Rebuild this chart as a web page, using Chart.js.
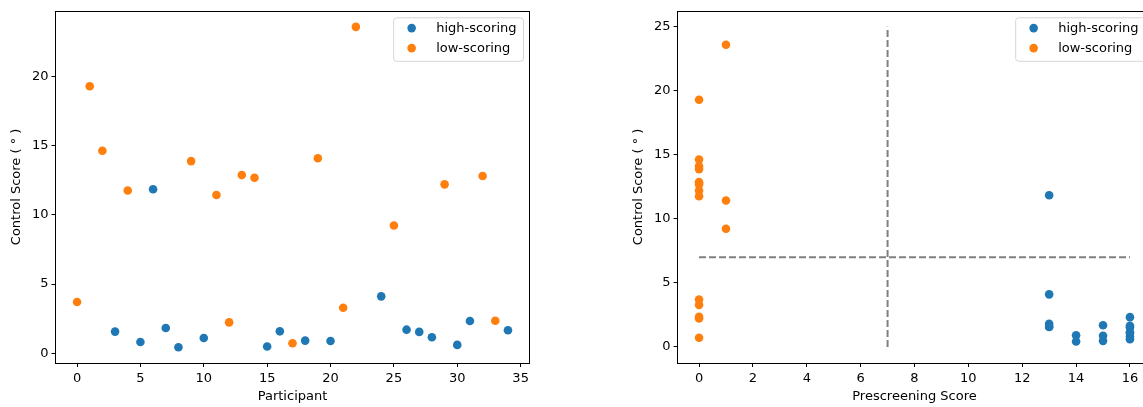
<!DOCTYPE html>
<html>
<head>
<meta charset="utf-8">
<script src="https://cdn.jsdelivr.net/npm/chart.js@4.4.1/dist/chart.umd.min.js"></script>
<style>
    html, body { margin: 0; padding: 0; background: #fff; overflow: hidden; width: 1143px; height: 407px; }
    canvas { position: absolute; top: 0; }
    #chartLeft { left: 0; }
    #chartRight { left: 622px; }
</style>
</head>
<body>
<canvas id="chartLeft" width="540" height="407"></canvas>
<canvas id="chartRight" width="540" height="407"></canvas>
<script>
// dados
const seriesNames = ['high-scoring', 'low-scoring'];

const highParticipants = [3, 5, 6, 7, 8, 10, 15, 16, 18, 20, 24, 26, 27, 28, 30, 31, 34];
const highScores = [1.56, 0.81, 11.85, 1.82, 0.43, 1.10, 0.48, 1.58, 0.91, 0.88, 4.11, 1.70, 1.54, 1.15, 0.60, 2.33, 1.66];
const highPrescreen = [13, 16, 13, 13, 14, 16, 15, 13, 14, 15, 13, 15, 16, 16, 16, 16, 16];

const lowParticipants = [0, 1, 2, 4, 9, 11, 12, 13, 14, 17, 19, 21, 22, 25, 29, 32, 33];
const lowScores = [3.70, 19.30, 14.64, 11.77, 13.89, 11.44, 2.23, 12.88, 12.69, 0.72, 14.10, 3.29, 23.60, 9.23, 12.21, 12.81, 2.35];
const lowPrescreen = [0, 0, 0, 0, 0, 1, 0, 0, 0, 0, 0, 0, 1, 1, 0, 0, 0];

const thresholdPrescreen = 7;
const thresholdControl = 7;
const thresholdControlMax = 25;
const thresholdPrescreenMax = 16;

const leftXTicks = [0, 5, 10, 15, 20, 25, 30, 35];
const leftYTicks = [0, 5, 10, 15, 20];
const rightXTicks = [0, 2, 4, 6, 8, 10, 12, 14, 16];
const rightYTicks = [0, 5, 10, 15, 20, 25];

const blue = '#1f77b4';
const orange = '#ff7f0e';
const fontFamily = "'DejaVu Sans', sans-serif";

function pontos(xs, ys) {
    return xs.map((x, i) => ({x: x, y: ys[i]}));
}

// moldura completa (quatro lados), como no matplotlib
const molduraPlugin = {
    id: 'moldura',
    afterDatasetsDraw(chart) {
        const a = chart.chartArea;
        const ctx = chart.ctx;
        ctx.save();
        ctx.strokeStyle = '#000';
        ctx.lineWidth = 1;
        ctx.strokeRect(Math.round(a.left) - 0.5, Math.round(a.top) + 0.5,
            Math.round(a.right - a.left), Math.round(a.bottom - a.top));
        ctx.restore();
    }
};

// legenda dentro do grafico, canto superior direito
const legendaPlugin = {
    id: 'legendaInterna',
    afterDraw(chart) {
        const a = chart.chartArea;
        const ctx = chart.ctx;
        ctx.save();
        ctx.font = '13px ' + fontFamily;
        let maxW = 0;
        seriesNames.forEach(n => { maxW = Math.max(maxW, ctx.measureText(n).width); });
        const w = 43 + maxW + 6.5;
        const h = 43.5;
        const right = a.right - 6.5;
        const top = a.top + 6.5;
        const left = right - w;
        ctx.beginPath();
        ctx.roundRect(left + 0.5, top + 0.5, w, h, 3);
        ctx.fillStyle = 'rgba(255,255,255,0.8)';
        ctx.fill();
        ctx.strokeStyle = 'rgba(204,204,204,0.8)';
        ctx.lineWidth = 1;
        ctx.stroke();
        const cores = [blue, orange];
        seriesNames.forEach((n, i) => {
            const cy = top + 10.8 + i * 20;
            ctx.beginPath();
            ctx.arc(left + 18.5, cy, 4.3, 0, Math.PI * 2);
            ctx.fillStyle = cores[i];
            ctx.fill();
            ctx.fillStyle = '#000';
            ctx.textBaseline = 'middle';
            ctx.textAlign = 'left';
            ctx.fillText(n, left + 43, cy + 0.5);
        });
        ctx.restore();
    }
};

function eixo(titulo, min, max, tickValues, horizontal) {
    return {
        type: 'linear',
        min: min,
        max: max,
        afterBuildTicks: function (axis) {
            axis.ticks = tickValues.map(v => ({value: v}));
        },
        afterFit: function (axis) {
            if (horizontal) {
                axis.height = 44;
            } else {
                axis.width = 55.5;
            }
        },
        grid: {
            drawOnChartArea: false,
            drawTicks: true,
            tickLength: 4,
            tickWidth: 1,
            tickColor: '#000'
        },
        border: {display: false},
        ticks: {
            color: '#000',
            padding: horizontal ? 4 : 3,
            maxRotation: 0,
            autoSkip: false,
            font: {family: fontFamily, size: 13}
        },
        title: {
            display: true,
            text: titulo,
            color: '#000',
            font: {family: fontFamily, size: 13},
            padding: horizontal ? {top: 4, bottom: 3} : {top: 9, bottom: 4}
        }
    };
}

function opcoes(xScale, yScale) {
    return {
        responsive: false,
        animation: false,
        layout: {padding: {left: 0, right: 10.5, top: 10, bottom: 0}},
        plugins: {
            legend: {display: false},
            tooltip: {enabled: false}
        },
        scales: {x: xScale, y: yScale}
    };
}

const estiloPonto = {pointRadius: 4.3, pointHoverRadius: 4.3, pointBorderWidth: 0};

new Chart(document.getElementById('chartLeft').getContext('2d'), {
    type: 'scatter',
    data: {
        datasets: [{
            label: seriesNames[0],
            data: pontos(highParticipants, highScores),
            backgroundColor: blue,
            borderColor: blue,
            ...estiloPonto
        }, {
            label: seriesNames[1],
            data: pontos(lowParticipants, lowScores),
            backgroundColor: orange,
            borderColor: orange,
            ...estiloPonto
        }]
    },
    options: opcoes(
        eixo('Participant', -1.7, 35.7, leftXTicks, true),
        eixo('Control Score ( \u00b0 )', -0.71, 24.76, leftYTicks, false)
    ),
    plugins: [molduraPlugin, legendaPlugin]
});

new Chart(document.getElementById('chartRight').getContext('2d'), {
    type: 'scatter',
    data: {
        datasets: [{
            label: seriesNames[0],
            data: pontos(highPrescreen, highScores),
            backgroundColor: blue,
            borderColor: blue,
            ...estiloPonto
        }, {
            label: seriesNames[1],
            data: pontos(lowPrescreen, lowScores),
            backgroundColor: orange,
            borderColor: orange,
            ...estiloPonto
        }, {
            label: 'limiar vertical',
            data: [{x: thresholdPrescreen, y: 0}, {x: thresholdPrescreen, y: thresholdControlMax}],
            showLine: true,
            borderColor: '#808080',
            borderWidth: 2,
            borderDash: [7, 3],
            pointRadius: 0
        }, {
            label: 'limiar horizontal',
            data: [{x: 0, y: thresholdControl}, {x: thresholdPrescreenMax, y: thresholdControl}],
            showLine: true,
            borderColor: '#808080',
            borderWidth: 2,
            borderDash: [7, 3],
            pointRadius: 0
        }]
    },
    options: opcoes(
        eixo('Prescreening Score', -0.8, 16.8, rightXTicks, true),
        eixo('Control Score ( \u00b0 )', -1.25, 26.25, rightYTicks, false)
    ),
    plugins: [molduraPlugin, legendaPlugin]
});
</script>
</body>
</html>
